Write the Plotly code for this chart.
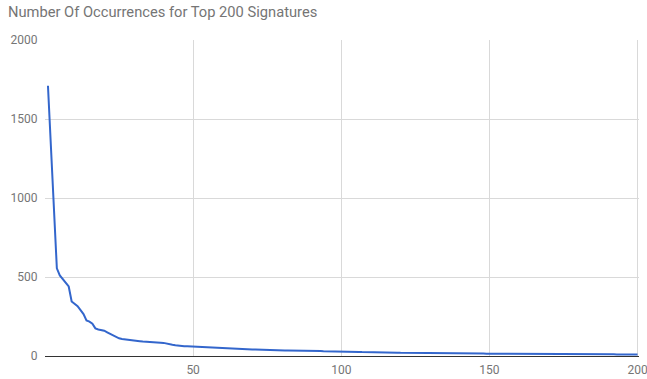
import plotly.graph_objects as go

# Occurrence counts of the 200 most frequent signatures, ranked
ranks = list(range(1, 201))
occurrences = [
    1710, 1330, 950, 555, 510, 485, 460, 440, 345, 330,
    315, 290, 265, 225, 218, 205, 175, 168, 165, 160,
    150, 140, 130, 118, 112, 108, 105, 103, 100, 98,
    96, 94, 92, 90, 89, 88, 86, 85, 84, 83,
    78, 74, 71, 68, 65, 63, 62, 61, 60, 59,
    58, 57, 55, 54, 52, 51, 50, 49, 48, 48,
    47, 47, 46, 46, 45, 45, 44, 43, 42, 41,
    41, 40, 39, 38, 38, 37, 37, 36, 36, 35,
    35, 35, 35, 34, 34, 34, 33, 33, 33, 32,
    32, 31, 31, 30, 30, 29, 29, 28, 28, 27,
    27, 27, 26, 26, 26, 26, 25, 25, 25, 24,
    24, 24, 23, 23, 22, 22, 21, 21, 21, 20,
    20, 20, 20, 19, 19, 19, 19, 19, 18, 18,
    18, 18, 18, 18, 17, 17, 17, 17, 17, 17,
    17, 16, 16, 16, 16, 16, 16, 16, 15, 15,
    15, 15, 15, 15, 15, 15, 14, 14, 14, 14,
    14, 14, 14, 14, 13, 13, 13, 13, 13, 13,
    13, 13, 12, 12, 12, 12, 12, 12, 12, 12,
    12, 11, 11, 11, 11, 11, 11, 11, 11, 11,
    11, 11, 10, 10, 10, 10, 10, 10, 10, 10,
]

x_ticks = [50, 100, 150, 200]
y_ticks = [0, 500, 1000, 1500, 2000]
title_text = "Number Of Occurrences for Top 200 Signatures"

fig = go.Figure(
    go.Scatter(
        x=ranks,
        y=occurrences,
        mode="lines",
        line=dict(color="#3366CC", width=2),
        hoverinfo="x+y",
    )
)

fig.update_layout(
    width=647,
    height=379,
    margin=dict(l=45, r=8, t=40, b=23),
    paper_bgcolor="white",
    plot_bgcolor="white",
    showlegend=False,
    font=dict(family="Roboto, Arial, sans-serif", size=12, color="#757575"),
    title=dict(
        text=title_text,
        x=0,
        xref="container",
        xanchor="left",
        pad=dict(l=8),
        y=1 - 12 / 379,
        yref="container",
        yanchor="middle",
        font=dict(size=14.7, color="#757575"),
    ),
)

fig.update_xaxes(
    range=[0, 200.5],
    tickvals=x_ticks,
    showgrid=True,
    gridcolor="#d9d9d9",
    gridwidth=1,
    zeroline=False,
    showline=False,
    automargin=False,
    ticks="outside",
    ticklen=3,
    tickcolor="rgba(0,0,0,0)",
    ticklabeloverflow="allow",
    tickfont=dict(size=12, color="#757575"),
)

fig.update_yaxes(
    range=[0, 2000],
    tickvals=y_ticks,
    showgrid=True,
    gridcolor="#d9d9d9",
    gridwidth=1,
    zeroline=True,
    zerolinecolor="#333333",
    zerolinewidth=1,
    showline=False,
    automargin=False,
    ticks="outside",
    ticklen=4,
    tickcolor="rgba(0,0,0,0)",
    tickfont=dict(size=12, color="#757575"),
)

fig.write_html("out.html")
